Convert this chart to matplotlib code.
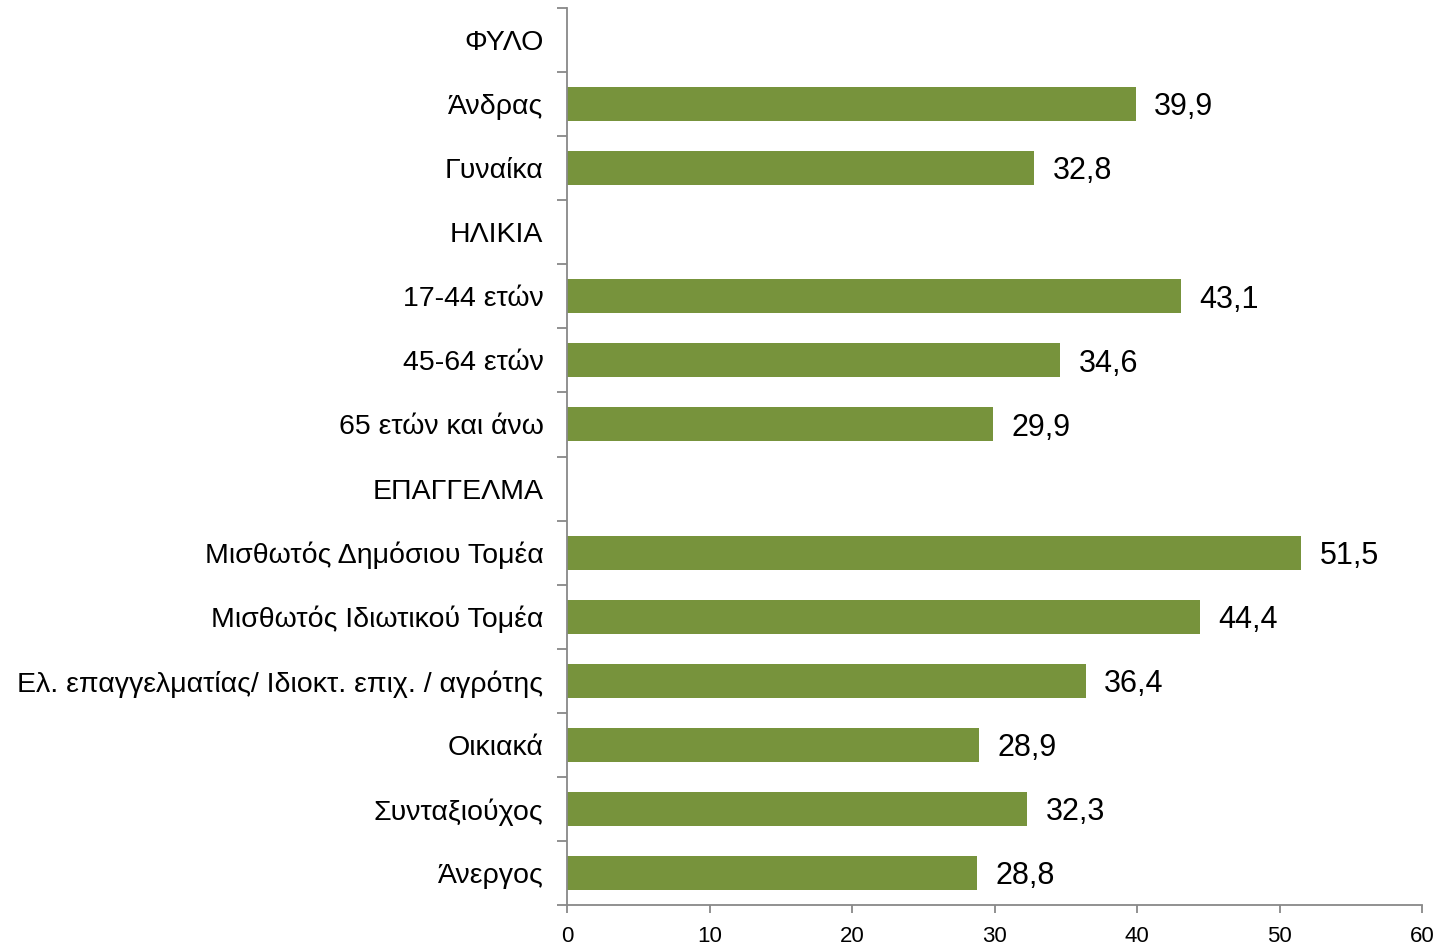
import matplotlib
matplotlib.use("Agg")
import matplotlib.pyplot as plt
import numpy as np

categories = ["ΦΥΛΟ", "Άνδρας", "Γυναίκα", "ΗΛΙΚΙΑ", "17-44 ετών", "45-64 ετών",
              "65 ετών και άνω", "ΕΠΑΓΓΕΛΜΑ", "Μισθωτός Δημόσιου Τομέα",
              "Μισθωτός Ιδιωτικού Τομέα",
              "Ελ. επαγγελματίας/ Ιδιοκτ. επιχ. / αγρότης",
              "Οικιακά", "Συνταξιούχος", "Άνεργος"]
values = [None, 39.9, 32.8, None, 43.1, 34.6, 29.9, None, 51.5, 44.4, 36.4, 28.9, 32.3, 28.8]
x_ticks = [0, 10, 20, 30, 40, 50, 60]

plt.rcParams['font.family'] = ['Liberation Sans', 'DejaVu Sans']

fig = plt.figure(figsize=(14.45, 9.44), dpi=100)
ax = fig.add_axes([567 / 1445, 39 / 944, 855 / 1445, 897 / 944])

pos = np.arange(len(categories))
for i, v in enumerate(values):
    if v is None:
        continue
    ax.barh(i, v, height=0.53, color='#77933C')
    ax.text(v + 1.3, i + 0.05, f"{v:.1f}".replace('.', ','), va='center', ha='left',
            fontsize=22, color='black')

ax.set_xlim(0, 60)
ax.set_ylim(len(categories) - 0.5, -0.5)
ax.set_xticks(x_ticks)
ax.set_xticklabels([str(t) for t in x_ticks], fontsize=16)
ax.set_yticks(pos)
ax.set_yticklabels(categories, fontsize=20.5)
ax.set_yticks(np.arange(-0.5, len(categories), 1), minor=True)

ax.tick_params(axis='y', which='major', length=0, pad=17)
ax.tick_params(axis='y', which='minor', length=7, width=1.3, color='#888888', direction='out')
ax.tick_params(axis='x', which='major', length=6, width=1.3, color='#888888', pad=9)

for s in ['top', 'right']:
    ax.spines[s].set_visible(False)
for s in ['left', 'bottom']:
    ax.spines[s].set_color('#888888')
    ax.spines[s].set_linewidth(1.3)

fig.savefig('out.png', dpi=100)
